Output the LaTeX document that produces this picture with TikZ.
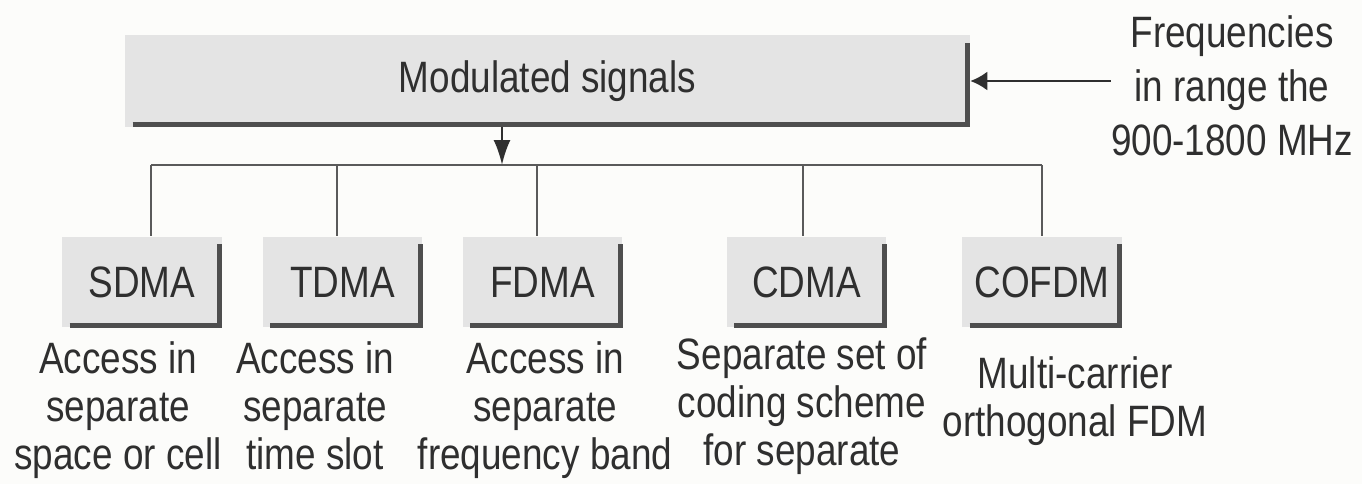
\documentclass[tikz,border=0pt]{standalone}
\usepackage{fontspec}
\setmainfont{Liberation Sans}[FakeStretch=0.84]
\usetikzlibrary{arrows.meta}
\definecolor{boxgray}{HTML}{E4E4E4}
\definecolor{edgegray}{HTML}{4E4E4E}
\definecolor{linegray}{HTML}{5A5A5A}
\definecolor{inkgray}{HTML}{2F2F2F}
\definecolor{paper}{HTML}{FCFCFA}
\begin{document}
\begin{tikzpicture}[x=0.02cm,y=-0.02cm,
  every node/.style={text=inkgray,font=\fontsize{25}{30}\selectfont},
  bigbox/.style={fill=boxgray,inner sep=0,minimum width=16.9cm,minimum height=1.84cm},
  smallbox/.style={fill=boxgray,inner sep=0,minimum width=3.2cm,minimum height=1.82cm},
  edgeL/.style={draw=edgegray,line width=0.1cm},
  conn/.style={draw=linegray,line width=1.6pt},
  arr/.style={draw=inkgray,line width=1.3pt},
  downtip/.style={-{Latex[length=0.5cm,width=0.34cm]}},
  sidetip/.style={-{Latex[length=0.34cm,width=0.38cm]}},
  desc/.style={align=center,anchor=north,inner sep=0,
    font=\fontsize{25}{27.3}\selectfont},
  sidenote/.style={align=center,anchor=north,inner sep=0,
    font=\fontsize{25}{30.7}\selectfont}]
  \useasboundingbox[fill=paper] (0,0) rectangle (1362,484);

  % top box and the incoming frequency range
  \node[bigbox] (main) at (547.5,81) {Modulated signals};
  \node[sidenote] (freq) at (1232,15) {Frequencies\\in range the\\900-1800 MHz};

  % access methods
  \node[smallbox] (sdma)  at (142,282)    {SDMA};
  \node[smallbox] (tdma)  at (342.5,282)  {TDMA};
  \node[smallbox] (fdma)  at (542.5,282)  {FDMA};
  \node[smallbox] (cdma)  at (806.5,282)  {CDMA};
  \node[smallbox] (cofdm) at (1042,282)   {COFDM};

  % dark edge along the bottom and right of every box
  \foreach \n in {main,sdma,tdma,fdma,cdma,cofdm}
    \draw[edgeL] ([xshift=0.16cm,yshift=0.05cm]\n.south west)
      -- ([xshift=-0.05cm,yshift=0.05cm]\n.south east)
      -- ([xshift=-0.05cm,yshift=-0.16cm]\n.north east);

  % descriptions
  \node[desc] (dsdma)  at (118,341)  {Access in\\separate\\space or cell};
  \node[desc] (dtdma)  at (315,341)  {Access in\\separate\\time slot};
  \node[desc] (dfdma)  at (545,341)  {Access in\\separate\\frequency band};
  \node[desc] (dcdma)  at (802,337)  {Separate set of\\coding scheme\\for separate};
  \node[desc] (dcofdm) at (1075,356) {Multi-carrier\\orthogonal FDM};

  % distribution bus
  \coordinate (b1) at (151,165);
  \coordinate (b2) at (337,165);
  \coordinate (b3) at (537,165);
  \coordinate (b4) at (803,165);
  \coordinate (b5) at (1042,165);
  \coordinate (bin) at (502,165);
  \draw[conn] (b1) -- (b5);
  \draw[conn] (b1) -- (b1 |- sdma.north);
  \draw[conn] (b2) -- (b2 |- tdma.north);
  \draw[conn] (b3) -- (b3 |- fdma.north);
  \draw[conn] (b4) -- (b4 |- cdma.north);
  \draw[conn] (b5) -- (b5 |- cofdm.north);

  % arrows
  \draw[arr,downtip] (main.south -| bin) -- (bin);
  \draw[arr,sidetip] (freq.west |- main.east) -- (main.east);
\end{tikzpicture}
\end{document}
